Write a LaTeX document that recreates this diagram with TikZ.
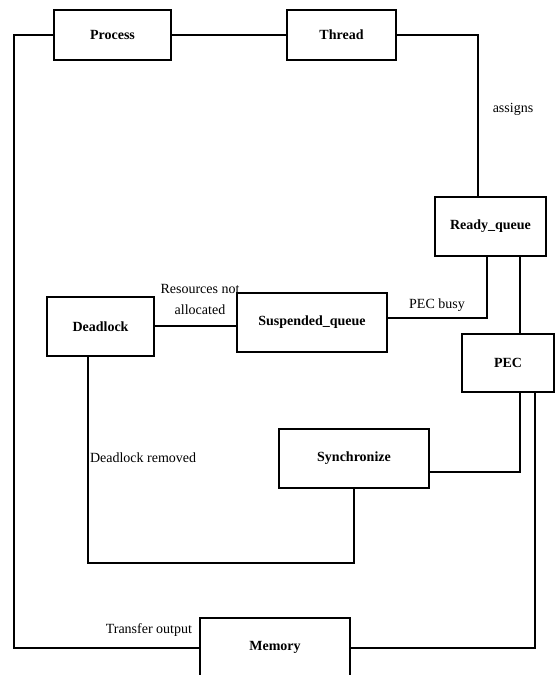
\documentclass[tikz,border=0pt]{standalone}
\usepackage{fontspec}
\setmainfont{Liberation Serif}
\usetikzlibrary{positioning,calc}
\begin{document}
\begin{tikzpicture}
[x=1pt,y=-1pt,line width=2pt,
box/.style = {draw, rectangle, minimum height=59pt, inner sep=2pt, font=\fontsize{14}{16}\selectfont\bfseries},
lbl/.style = {font=\fontsize{14}{21}\selectfont, inner sep=0pt, align=center}]
\useasboundingbox (0,0) rectangle (556,675);
\node (Pr) at (112.5,35)[box,minimum width=117pt,minimum height=50pt] {Process};
\node (Th) at (341.5,35)[box,minimum width=109pt,minimum height=50pt] {Thread};
\node (Rq) at (490.5,226.5)[box,minimum width=111pt] {Ready\_queue};
\node (Sq) at (312,322.5)[box,minimum width=150pt] {Suspended\_queue};
\node (Dl) at (100.5,326.5)[box,minimum width=107pt] {Deadlock};
\node (PEC) at (508,363)[box,minimum width=92pt,minimum height=58pt] {PEC};
\node (Sy) at (354,458.5)[box,minimum width=150pt] {Synchronize};
\node (Me) at (275,647.5)[box,minimum width=150pt] {Memory};
\coordinate (L) at (14,0);
\coordinate (B) at (0,563);
\draw (Pr.west) -- (Pr.west -| L) |- (Me.west);
\draw (Pr.east) -- (Th.west);
\draw (Th.east) -| ([xshift=-12.5pt]Rq.north);
\draw ([xshift=-3.5pt]Rq.south) |- ([yshift=4.5pt]Sq.east);
\draw ([xshift=29.5pt]Rq.south) -- ([xshift=29.5pt]Rq.south |- PEC.north);
\draw ([yshift=0.5pt]Dl.east) -- ([yshift=0.5pt]Dl.east -| Sq.west);
\draw ([xshift=-12.5pt]Dl.south) -- ([xshift=-12.5pt]Dl.south |- B) -| (Sy.south);
\draw ([yshift=-13.5pt]Sy.east) -| ([xshift=12pt]PEC.south);
\draw ([xshift=27pt]PEC.south) |- (Me.east);
\node (as) at (513,109)[lbl] {assigns};
\node (pb) at (437,305)[lbl] {PEC busy};
\node (ra) at (200,299.5)[lbl] {Resources not\\allocated};
\node (dr) at (89,458)[lbl,anchor=west] {Deadlock removed};
\node (to) at (193,630)[lbl,anchor=east] {Transfer output};
\end{tikzpicture}
\end{document}
